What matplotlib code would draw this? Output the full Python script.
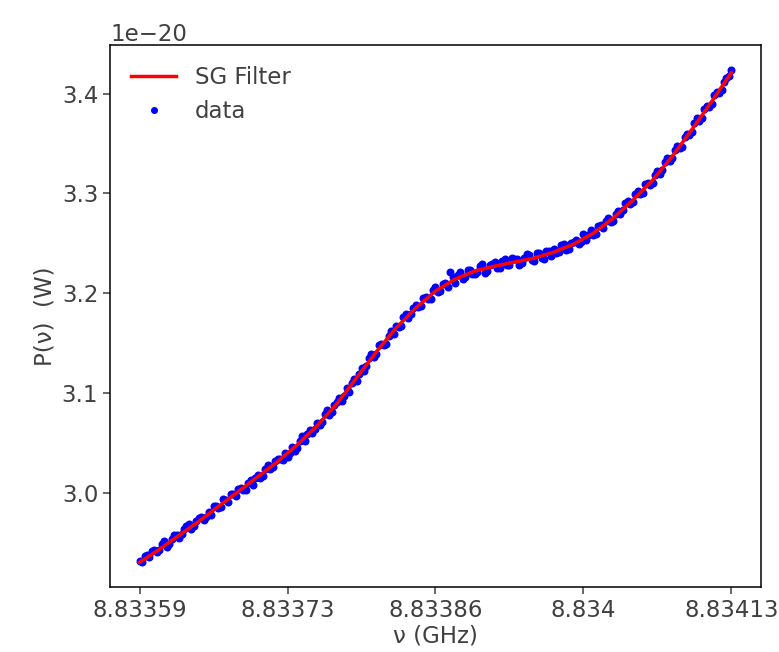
import numpy as np
import matplotlib.pyplot as plt

# frequency sweep (GHz)
f_start = 8.83359
f_stop = 8.83413

# Savitzky-Golay filtered power (units of 1e-20 W), 31 nodes across the sweep
sg_power = [2.930, 2.943, 2.957, 2.971, 2.986, 3.001, 3.016, 3.031, 3.048, 3.067,
            3.089, 3.115, 3.141, 3.165, 3.185, 3.202, 3.214, 3.222, 3.227, 3.231,
            3.235, 3.241, 3.249, 3.260, 3.275, 3.293, 3.313, 3.337, 3.364, 3.392,
            3.421]

# measured power (units of 1e-20 W): even samples of the sweep (121 values)
data_even = [2.931, 2.936, 2.935, 2.942, 2.942, 2.951, 2.948, 2.957,
             2.954, 2.963, 2.968, 2.966, 2.974, 2.972, 2.980, 2.987,
             2.984, 2.994, 2.991, 2.999, 3.004, 3.003, 3.010, 3.008,
             3.018, 3.017, 3.028, 3.026, 3.034, 3.033, 3.036, 3.046,
             3.045, 3.057, 3.059, 3.060, 3.070, 3.071, 3.083, 3.081,
             3.091, 3.092, 3.105, 3.110, 3.112, 3.125, 3.127, 3.139,
             3.139, 3.149, 3.149, 3.162, 3.167, 3.167, 3.179, 3.179,
             3.188, 3.187, 3.196, 3.194, 3.206, 3.202, 3.210, 3.221,
             3.210, 3.221, 3.216, 3.223, 3.219, 3.227, 3.220, 3.228,
             3.231, 3.225, 3.234, 3.228, 3.234, 3.228, 3.235, 3.238,
             3.232, 3.240, 3.234, 3.242, 3.244, 3.241, 3.249, 3.244,
             3.251, 3.249, 3.259, 3.258, 3.258, 3.267, 3.265, 3.275,
             3.272, 3.282, 3.283, 3.292, 3.291, 3.302, 3.300, 3.310,
             3.310, 3.322, 3.323, 3.335, 3.335, 3.347, 3.346, 3.359,
             3.361, 3.375, 3.376, 3.388, 3.390, 3.402, 3.404, 3.416,
             3.424]

# odd samples of the sweep (120 values, between the even ones)
data_odd = [2.930, 2.937, 2.941, 2.940, 2.948, 2.945, 2.953, 2.957,
            2.958, 2.966, 2.963, 2.971, 2.975, 2.975, 2.977, 2.987,
            2.985, 2.993, 2.999, 2.997, 3.005, 3.003, 3.013, 3.015,
            3.015, 3.024, 3.024, 3.032, 3.034, 3.040, 3.040, 3.042,
            3.052, 3.052, 3.063, 3.064, 3.068, 3.079, 3.078, 3.088,
            3.095, 3.097, 3.101, 3.114, 3.119, 3.122, 3.135, 3.136,
            3.148, 3.148, 3.157, 3.159, 3.166, 3.176, 3.175, 3.185,
            3.186, 3.195, 3.194, 3.203, 3.201, 3.209, 3.206, 3.216,
            3.218, 3.214, 3.223, 3.219, 3.221, 3.229, 3.222, 3.229,
            3.225, 3.232, 3.228, 3.235, 3.234, 3.230, 3.239, 3.233,
            3.240, 3.235, 3.242, 3.237, 3.240, 3.248, 3.243, 3.250,
            3.253, 3.251, 3.253, 3.263, 3.259, 3.268, 3.272, 3.271,
            3.279, 3.279, 3.290, 3.289, 3.299, 3.299, 3.309, 3.308,
            3.318, 3.319, 3.331, 3.332, 3.343, 3.345, 3.356, 3.358,
            3.370, 3.372, 3.385, 3.387, 3.399, 3.401, 3.412, 3.418]

tick_labels = ["8.83359", "8.83373", "8.83386", "8.834", "8.83413"]

text_col = "#404040"
plt.rcParams['font.size'] = 16.5
plt.rcParams['text.color'] = text_col
plt.rcParams['axes.labelcolor'] = text_col
plt.rcParams['xtick.color'] = text_col
plt.rcParams['ytick.color'] = text_col

fig = plt.figure(figsize=(7.79, 6.52), dpi=100)
ax = fig.add_axes([0.1412, 0.0997, 0.8357, 0.8313])

# interleave the two halves of the sweep
data_power = np.empty(len(data_even) + len(data_odd))
data_power[0::2] = data_even
data_power[1::2] = data_odd
f_data = np.linspace(f_start, f_stop, len(data_power))
f_sg = np.linspace(f_start, f_stop, len(sg_power))

pts, = ax.plot(f_data, data_power * 1e-20, '.', color='blue',
               markersize=9.5, label='data')
line, = ax.plot(f_sg, np.array(sg_power) * 1e-20, '-', color='red',
                linewidth=2.5, label='SG Filter')

ax.set_xticks(np.linspace(f_start, f_stop, len(tick_labels)))
ax.set_xticklabels(tick_labels)
ax.tick_params(length=5, width=1.1)
for s in ax.spines.values():
    s.set_linewidth(1.1)

ax.set_xlabel("ν (GHz)", labelpad=2)
ax.set_ylabel("P(ν)  (W)")
ax.legend(handles=[line, pts], loc='upper left', frameon=False, numpoints=1,
          markerscale=0.85)

fig.savefig("out.png", dpi=100)
